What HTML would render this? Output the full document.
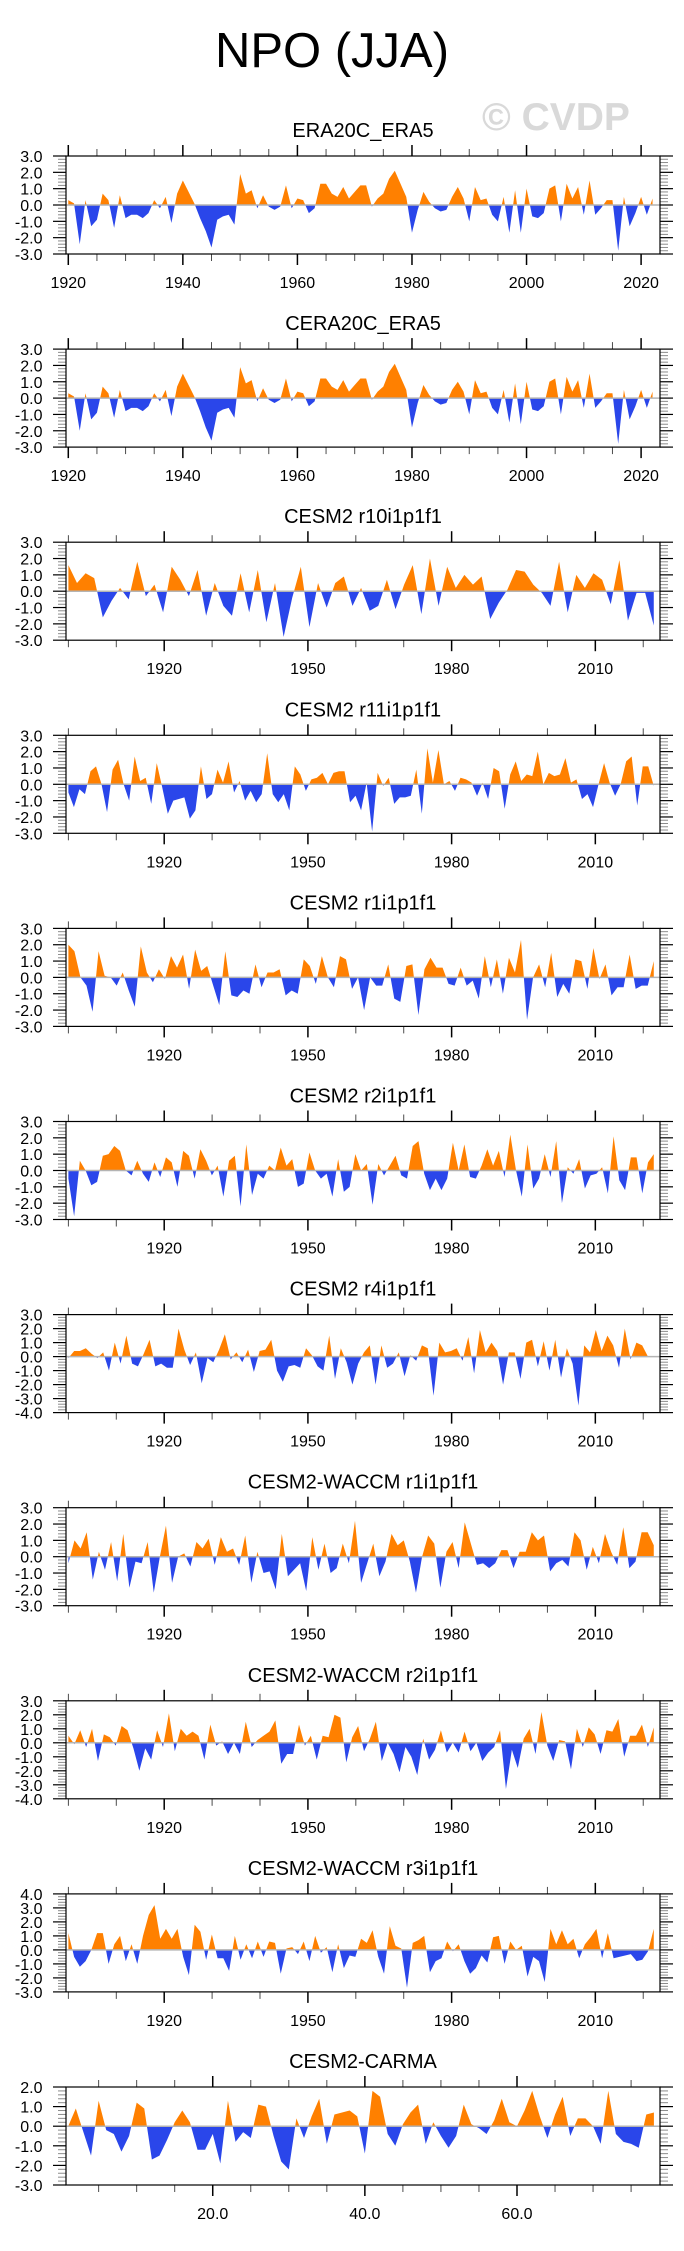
<!DOCTYPE html>
<html><head><meta charset="utf-8">
<style>
html,body{margin:0;padding:0;background:#fff;}
svg{display:block;font-family:"Liberation Sans",Arial,sans-serif;}
</style></head>
<body>
<svg id="chart" width="684" height="2251" viewBox="0 0 684 2251" xmlns="http://www.w3.org/2000/svg">
<text x="332" y="67" font-size="49" text-anchor="middle" fill="#000">NPO (JJA)</text>
<text x="482" y="130" font-size="39" font-weight="bold" fill="#d9d9d9">© CVDP</text>
<g id="panels"></g>
</svg>
<script>
// ---- data ----
const titles = ["ERA20C_ERA5","CERA20C_ERA5","CESM2 r10i1p1f1","CESM2 r11i1p1f1","CESM2 r1i1p1f1","CESM2 r2i1p1f1","CESM2 r4i1p1f1","CESM2-WACCM r1i1p1f1","CESM2-WACCM r2i1p1f1","CESM2-WACCM r3i1p1f1","CESM2-CARMA"];
const yMins = [-3,-3,-3,-3,-3,-3,-4,-3,-4,-3,-3];
const yMaxs = [3,3,3,3,3,3,3,3,3,4,2];
const obsYearStart = 1920, obsYearEnd = 2022;
const modelYearStart = 1900, modelYearEnd = 2022.2;
const carmaStart = 1, carmaEnd = 78;
const obsTicksMajor = [1920,1940,1960,1980,2000,2020];
const modelTicksMajor = [1920,1950,1980,2010];
const carmaTicksMajor = [20,40,60];
const carmaTickLabels = ["20.0","40.0","60.0"];

const s0 = [0.3,0.1,-2.4,0.3,-1.3,-0.9,0.7,0.3,-1.4,0.6,
-0.8,-0.6,-0.6,-0.8,-0.5,0.3,-0.2,0.5,-1.1,0.7,
1.5,0.8,0.1,-0.8,-1.6,-2.6,-0.9,-0.7,-0.6,-1.2,
1.9,0.7,0.9,-0.2,0.6,-0.1,-0.3,-0.1,1.2,-0.2,
0.4,0.3,-0.5,-0.2,1.3,1.3,0.7,0.5,1.1,0.4,
0.8,1.2,1.2,-0.1,0.4,0.7,1.6,2.1,1.3,0.5,
-1.7,-0.3,0.8,0.2,-0.2,-0.4,-0.3,0.5,1.1,0.4,
-1.0,1.1,0.3,0.4,-0.6,-1.0,0.5,-1.7,0.9,-1.7,
1.0,-0.7,-0.8,-0.5,1.0,1.2,-1.0,1.3,0.4,1.1,
-0.6,1.5,-0.6,-0.2,0.3,0.3,-2.8,0.5,-1.3,-0.5,
0.5,-0.6,0.4];
const s1 = [0.3,0.1,-2.0,0.3,-1.3,-0.9,0.7,0.3,-1.2,0.5,
-0.8,-0.6,-0.6,-0.8,-0.5,0.3,-0.2,0.5,-1.1,0.7,
1.5,0.8,0.1,-0.8,-1.8,-2.6,-0.9,-0.7,-0.6,-1.2,
1.9,0.9,1.1,-0.2,0.6,-0.1,-0.3,-0.1,1.2,-0.2,
0.4,0.3,-0.5,-0.2,1.2,1.2,0.7,0.5,1.1,0.4,
0.8,1.2,1.2,-0.1,0.4,0.7,1.6,2.1,1.3,0.5,
-1.8,-0.3,0.8,0.2,-0.2,-0.4,-0.3,0.5,1.0,0.4,
-1.0,1.1,0.3,0.4,-0.6,-1.0,0.5,-1.5,0.9,-1.6,
1.0,-0.7,-0.8,-0.5,1.0,1.2,-1.0,1.3,0.4,1.1,
-0.6,1.5,-0.6,-0.2,0.3,0.3,-2.8,0.5,-1.3,-0.5,
0.5,-0.6,0.4];
const s2 = [1.6,0.5,1.1,0.8,-1.6,-0.6,0.2,-0.5,1.8,-0.3,0.4,-1.3,1.5,0.7,-0.3,1.3,-1.5,0.5,-0.9,-1.5,1.1,-1.3,1.3,-1.9,0.5,-2.8,-0.4,1.5,-2.2,0.5,-1.0,0.5,0.9,-0.9,0.2,-1.2,-0.9,0.7,-1.1,0.4,1.6,-1.4,2.0,-0.9,1.5,0.2,1.0,0.4,0.9,-1.7,-0.7,0.1,1.3,1.2,0.4,-0.1,-0.9,1.8,-1.3,1.0,0.2,1.1,0.7,-0.8,1.9,-1.8,-0.1,-0.1,-2.1];
const s3 = [-0.5,-1.4,-0.3,-0.6,0.8,1.1,0.0,-1.7,0.9,1.5,0.0,-1.0,1.7,0.2,0.4,-1.2,1.3,-0.2,-1.8,-1.0,-0.9,-0.8,-2.1,-1.6,1.1,-0.9,-0.6,0.9,0.1,1.4,-0.5,0.2,-1.0,-0.4,-1.1,-0.6,1.9,-0.6,-1.1,-0.6,-1.6,1.1,0.6,-0.4,0.3,0.4,0.7,0.0,0.7,0.8,0.8,-1.1,-0.7,-1.6,0.1,-2.9,0.7,-0.1,0.4,-1.2,-0.8,-0.8,-0.7,0.9,-1.8,2.2,0.1,2.1,0.0,0.2,-0.4,0.4,0.3,0.1,-0.7,0.1,-0.9,1.0,0.8,-1.5,0.6,1.4,0.2,0.6,0.5,2.0,0.0,0.7,0.5,0.6,1.6,0.1,0.3,-0.9,-0.6,-1.4,0.0,1.3,0.1,-0.7,0.0,1.4,1.7,-1.3,1.1,1.1,-0.1];
const s4 = [2.0,1.6,0.0,-0.5,-2.1,1.6,0.1,0.0,-0.5,0.3,-0.8,-1.8,1.9,0.3,-0.3,0.5,-0.1,1.3,0.6,1.4,-0.7,1.7,0.4,0.7,-0.5,-1.7,1.6,-1.1,-1.2,-0.8,-1.0,0.8,-0.6,0.3,0.3,0.5,-1.1,-0.8,-1.0,1.1,0.7,-0.4,1.3,0.0,-0.6,1.3,1.1,-0.7,0.0,-2.0,0.0,-0.5,-0.5,0.8,-1.3,-1.5,0.7,0.8,-2.3,0.5,1.2,0.6,0.6,-0.4,-0.5,0.6,-0.5,-0.2,-1.3,1.3,-0.6,1.1,-1.0,1.2,0.3,2.3,-2.6,0.0,0.8,-0.6,1.5,-1.2,-0.4,-1.0,1.1,1.0,-0.7,1.8,-0.1,0.8,-1.1,-0.6,-0.6,1.4,-0.7,-0.5,-0.5,1.0];
const s5 = [-0.5,-2.8,0.6,0.0,-0.9,-0.7,0.9,1.0,1.5,1.2,0.0,-0.3,0.6,-0.2,-0.7,0.5,-0.4,0.8,0.5,-1.0,1.2,0.9,-0.5,1.3,0.6,-0.3,0.3,-1.6,0.6,0.9,-2.2,1.6,-1.5,-0.2,-0.5,0.3,0.0,1.4,0.3,0.7,-1.0,-0.8,1.1,0.0,-0.5,-0.2,-1.6,0.7,-1.3,-1.0,1.0,0.0,0.4,-2.1,0.4,-0.3,0.3,0.9,-0.3,-0.5,1.5,1.8,-0.2,-1.2,-0.5,-1.2,-0.5,1.7,0.0,1.6,-0.4,-0.5,0.3,1.3,0.3,1.2,-0.4,2.2,0.0,-1.6,1.6,-1.1,-0.5,1.0,-0.4,1.8,-2.0,0.2,-0.2,0.7,-1.1,-0.3,-0.2,0.2,-1.4,2.1,-0.6,-1.2,0.8,0.8,-1.4,0.5,1.0];
const s6 = [-0.1,0.4,0.4,0.6,0.2,-0.1,0.3,-1.0,1.0,-0.5,1.5,-0.5,-0.7,0.2,1.2,-0.7,-0.5,-0.8,-0.8,2.0,0.5,-0.6,0.3,-1.9,-0.1,-0.4,0.5,1.6,-0.2,0.3,-0.4,0.5,-1.1,0.4,0.5,1.2,-1.0,-1.8,-0.7,-0.6,-0.8,0.6,0.1,-0.7,-1.0,1.5,-1.6,0.6,-0.4,-2.0,-0.5,0.3,0.8,-2.0,0.8,-0.8,-0.5,0.3,-1.4,0.1,-0.3,0.8,0.6,-2.8,1.0,0.3,0.4,0.6,-0.3,1.4,-1.2,1.9,0.3,1.0,0.4,-2.0,0.3,0.3,-1.6,1.0,1.2,-0.7,1.1,-1.0,1.2,-1.5,0.6,-0.5,-3.5,0.8,0.3,1.9,0.4,1.5,0.8,-0.8,2.0,-0.2,1.0,0.8,0.0,0.0];
const s7 = [-0.4,1.0,0.5,1.5,-1.4,0.3,-0.8,0.9,-1.5,1.4,-1.9,-0.3,-0.4,0.9,-2.2,0.0,1.9,-1.6,0.0,0.2,-0.6,0.9,0.5,1.1,-0.5,1.2,0.3,0.5,-0.5,1.3,-1.6,0.3,-1.0,-0.9,-2.0,1.4,-1.2,-0.8,-0.4,-2.1,1.2,-0.8,0.8,-1.0,-0.7,0.8,-0.4,2.2,-1.6,-0.4,0.8,-1.2,-0.3,1.4,0.7,1.0,-0.3,-2.2,0.0,1.3,0.8,-1.9,0.3,0.9,-0.7,2.1,0.8,-0.5,-0.4,-0.7,-0.4,0.4,0.4,-0.7,0.3,0.3,1.5,1.0,1.3,-0.9,-0.4,-0.2,-0.6,1.5,1.0,-0.8,0.6,-0.4,1.4,0.3,-0.5,1.8,-0.7,-0.3,1.5,1.5,0.7];
const s8 = [0.5,-0.1,0.9,-0.3,1.0,-1.3,0.6,0.4,-0.2,1.2,0.9,-0.4,-2.0,-0.4,-1.2,0.9,-0.3,2.1,-0.6,1.0,0.5,0.8,0.5,-1.2,1.3,-0.2,0.1,-0.8,0.0,-0.8,1.5,-0.3,0.2,0.5,0.8,1.6,-1.5,-0.8,-0.8,1.3,-0.2,0.5,-1.2,0.5,0.4,2.0,1.8,-1.4,0.4,1.2,-0.6,0.3,1.5,-1.3,0.0,-0.8,-2.1,-0.3,-1.0,-2.3,0.3,-1.2,-0.5,0.9,-0.7,0.0,-0.7,0.8,-0.6,0.0,-1.3,-0.7,-0.3,0.9,-3.3,-0.5,-1.8,0.3,1.0,-0.8,2.2,-0.2,-1.3,0.2,0.1,-1.9,1.0,-0.3,1.1,0.6,-0.8,0.9,0.8,1.7,-1.0,0.5,0.5,1.3,-0.3,1.1];
const s9 = [1.2,-0.5,-1.2,-0.8,0.0,1.2,1.2,-1.0,0.4,1.0,-0.8,0.4,-1.0,1.0,2.5,3.2,0.8,1.5,0.8,1.5,-0.5,-1.8,1.8,1.3,-0.7,1.1,-0.6,-0.6,-1.5,1.0,-0.7,0.4,-0.6,0.6,-0.5,0.6,0.5,-1.7,0.1,0.2,-0.3,0.6,-0.8,1.0,-0.2,0.2,-1.6,0.4,-1.3,-0.4,-0.5,0.8,0.5,1.4,-0.5,-1.7,1.7,0.3,0.1,-2.7,0.5,0.7,1.0,-1.6,-0.8,-0.6,0.6,-0.1,0.4,-0.8,-1.7,-1.3,-0.4,-0.9,0.9,1.0,-1.0,0.6,0.0,0.3,-1.9,-0.5,-0.8,-2.3,1.5,0.4,1.4,0.4,0.8,-0.6,0.4,0.9,1.5,-0.6,1.2,-0.6,-0.5,-0.4,-0.3,-0.8,-0.7,-0.1,1.5];
const s10 = [0.0,0.9,-0.3,-1.5,1.3,-0.2,-0.4,-1.3,-0.5,1.2,0.9,-1.7,-1.5,-0.7,0.2,0.8,0.2,-1.2,-1.2,-0.4,-1.9,1.3,-0.8,-0.3,-0.6,1.1,1.0,-0.5,-1.8,-2.2,0.4,-0.6,0.5,1.4,-0.9,0.6,0.7,0.8,0.5,-1.4,1.8,1.5,-0.4,-1.0,0.1,0.7,1.1,-0.9,0.2,-0.5,-1.1,-0.5,1.1,0.1,-0.1,-0.4,0.3,1.4,0.2,0.0,0.8,1.8,0.5,-0.6,0.6,1.5,-0.5,0.4,0.4,0.0,-0.9,1.8,-0.4,-0.8,-0.9,-1.1,0.6,0.7];
const series = [s0,s1,s2,s3,s4,s5,s6,s7,s8,s9,s10];

// ---- layout ----
const NS = "http://www.w3.org/2000/svg";
const L = 66, R = 660, H = 98, TOP0 = 156, STEP = 193.1;
const root = document.getElementById("panels");
function mk(tag, attrs, parent){
  const e = document.createElementNS(NS, tag);
  for (const k in attrs) e.setAttribute(k, attrs[k]);
  (parent||root).appendChild(e);
  return e;
}
function fmt(v){ return v.toFixed(1); }

series.forEach((vals, k) => {
  const top = TOP0 + k*STEP, bot = top + H;
  const kind = k < 2 ? "obs" : (k === 10 ? "carma" : "model");
  let x0, x1, tStart, tEnd, majors, minorStep, minorStart, labels;
  if (kind === "obs") { x0 = 1919.6; x1 = 2023.3; tStart = obsYearStart; tEnd = obsYearEnd; majors = obsTicksMajor; minorStep = 5; minorStart = 1920; labels = majors.map(String); }
  else if (kind === "model") { x0 = 1899.5; x1 = 2023.5; tStart = modelYearStart; tEnd = modelYearEnd; majors = modelTicksMajor; minorStep = 10; minorStart = 1900; labels = majors.map(String); }
  else { x0 = 0.71; x1 = 78.8; tStart = carmaStart; tEnd = carmaEnd; majors = carmaTicksMajor; minorStep = 5; minorStart = 5; labels = carmaTickLabels; }
  const ymin = yMins[k], ymax = yMaxs[k];
  const sx = t => L + (t - x0) / (x1 - x0) * (R - L);
  const sy = v => bot - (v - ymin) / (ymax - ymin) * H;

  const g = mk("g", {});
  
  

  const title = mk("text", {x: (L+R)/2, y: top - 19, "font-size": 20, "text-anchor": "middle", fill: "#000"}, g);
  
  
  title.textContent = titles[k];

  // clip paths
  const defs = mk("defs", {}, g);
  const cpU = mk("clipPath", {id: "cu" + k}, defs);
  mk("rect", {x: L, y: top, width: R-L, height: sy(0)-top}, cpU);
  const cpD = mk("clipPath", {id: "cd" + k}, defs);
  mk("rect", {x: L, y: sy(0), width: R-L, height: bot-sy(0)}, cpD);

  const n = vals.length;
  const tAt = i => tStart + i * (tEnd - tStart) / (n - 1);
  let d = "M" + sx(tAt(0)).toFixed(2) + "," + sy(0).toFixed(2);
  vals.forEach((v, i) => { d += " L" + sx(tAt(i)).toFixed(2) + "," + sy(v).toFixed(2); });
  d += " L" + sx(tAt(n-1)).toFixed(2) + "," + sy(0).toFixed(2) + " Z";
  const pos = mk("path", {d: d, fill: "#ff8000", "clip-path": "url(#cu" + k + ")"}, g);
  
  
  const neg = mk("path", {d: d, fill: "#2a46ea", "clip-path": "url(#cd" + k + ")"}, g);
  
  

  const zl = mk("line", {x1: L, x2: R, y1: sy(0), y2: sy(0), stroke: "#b4b4b4", "stroke-width": 1.5}, g);
  
  

  const frame = mk("rect", {x: L, y: top, width: R-L, height: H, fill: "none", stroke: "#000", "stroke-width": 1.2}, g);
  
  

  // y ticks
  for (let v = ymin; v <= ymax + 1e-9; v += 0.2) {
    const yy = sy(v);
    const isMaj = Math.abs(v - Math.round(v)) < 1e-6;
    const len = isMaj ? 13 : 8;
    mk("line", {x1: L - len, x2: L, y1: yy, y2: yy, stroke: "#000", "stroke-width": isMaj ? 1.2 : 1, opacity: isMaj ? 1 : 0.45}, g);
    mk("line", {x1: R, x2: R + len, y1: yy, y2: yy, stroke: "#000", "stroke-width": isMaj ? 1.2 : 1, opacity: isMaj ? 1 : 0.45}, g);
    if (isMaj) {
      const lab = mk("text", {x: 42.5, y: yy + 6, "font-size": 16, "text-anchor": "end", fill: "#000"}, g);
      
      
      lab.textContent = fmt(Math.round(v));
    }
  }
  // x ticks
  for (let t = minorStart; t <= x1; t += minorStep) {
    if (t < x0) continue;
    const xx = sx(t);
    const isMaj = majors.indexOf(t) >= 0;
    const len = isMaj ? 11 : 7;
    mk("line", {x1: xx, x2: xx, y1: top - len, y2: top, stroke: "#000", "stroke-width": isMaj ? 1.5 : 1, opacity: isMaj ? 1 : 0.7}, g);
    mk("line", {x1: xx, x2: xx, y1: bot, y2: bot + len, stroke: "#000", "stroke-width": isMaj ? 1.5 : 1, opacity: isMaj ? 1 : 0.7}, g);
  }
  majors.forEach((t, i) => {
    const lab = mk("text", {x: sx(t), y: bot + 34, "font-size": 16, "text-anchor": "middle", fill: "#000"}, g);
    
    
    lab.textContent = labels[i];
  });
});
</script>
</body></html>
